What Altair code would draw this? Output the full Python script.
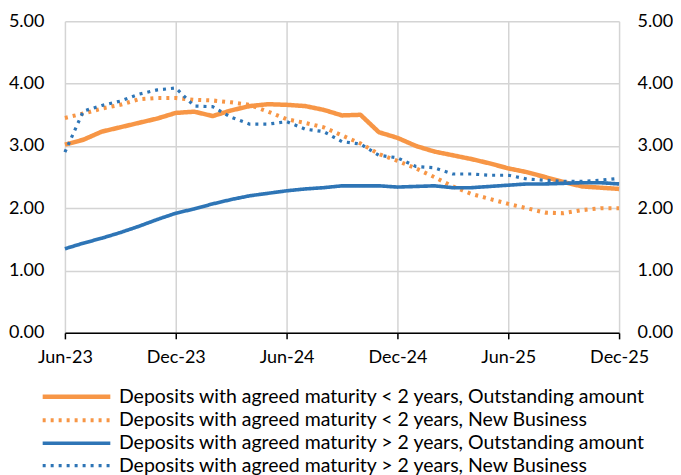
import altair as alt
import pandas as pd

months = ["Jun-23", "Jul-23", "Aug-23", "Sep-23", "Oct-23", "Nov-23", "Dec-23",
          "Jan-24", "Feb-24", "Mar-24", "Apr-24", "May-24", "Jun-24", "Jul-24",
          "Aug-24", "Sep-24", "Oct-24", "Nov-24", "Dec-24",
          "Jan-25", "Feb-25", "Mar-25", "Apr-25", "May-25", "Jun-25", "Jul-25",
          "Aug-25", "Sep-25", "Oct-25", "Nov-25", "Dec-25"]

series_names = [
    "Deposits with agreed maturity < 2 years, Outstanding amount",
    "Deposits with agreed maturity < 2 years, New Business",
    "Deposits with agreed maturity > 2 years, Outstanding amount",
    "Deposits with agreed maturity > 2 years, New Business",
]

short_oa = [3.02, 3.10, 3.23, 3.30, 3.37, 3.44, 3.53, 3.55, 3.48, 3.57, 3.64,
            3.67, 3.66, 3.64, 3.58, 3.49, 3.50, 3.22, 3.13, 3.00, 2.91, 2.85,
            2.79, 2.72, 2.64, 2.58, 2.50, 2.42, 2.35, 2.33, 2.31]
short_nb = [3.45, 3.52, 3.60, 3.66, 3.75, 3.77, 3.77, 3.74, 3.73, 3.70, 3.66,
            3.55, 3.43, 3.37, 3.30, 3.17, 3.04, 2.87, 2.76, 2.64, 2.50, 2.35,
            2.23, 2.15, 2.07, 2.00, 1.93, 1.92, 1.97, 2.00, 2.00]
long_oa = [1.35, 1.44, 1.52, 1.61, 1.71, 1.82, 1.92, 1.99, 2.07, 2.14, 2.20,
           2.24, 2.28, 2.31, 2.33, 2.36, 2.36, 2.36, 2.34, 2.35, 2.36, 2.33,
           2.33, 2.35, 2.37, 2.39, 2.39, 2.40, 2.41, 2.41, 2.39]
long_nb = [2.90, 3.56, 3.65, 3.72, 3.83, 3.90, 3.93, 3.64, 3.63, 3.46, 3.35,
           3.35, 3.39, 3.27, 3.23, 3.07, 3.03, 2.85, 2.81, 2.67, 2.65, 2.55,
           2.55, 2.53, 2.53, 2.47, 2.45, 2.43, 2.43, 2.45, 2.48]

tick_labels = ["Jun-23", "Dec-23", "Jun-24", "Dec-24", "Jun-25", "Dec-25"]

ORANGE = "#F79646"
BLUE = "#2E75B6"
FONT = "Lato"

rows = []
for name, vals in zip(series_names, [short_oa, short_nb, long_oa, long_nb]):
    for i, (m, v) in enumerate(zip(months, vals)):
        rows.append({"idx": i, "month": m, "series": name, "value": v})
df = pd.DataFrame(rows)

label_js = "[" + ",".join("'%s'" % t for t in tick_labels) + "]"

x_enc = alt.X(
    "idx:Q",
    scale=alt.Scale(domain=[0, 30], nice=False, zero=False),
    axis=alt.Axis(
        title=None,
        values=[0, 6, 12, 18, 24, 30],
        labelExpr=label_js + "[round(datum.value / 6)]",
        tickSize=6, tickColor="#000000", tickWidth=1.5,
        domainColor="#000000", domainWidth=1.5,
        grid=True, gridColor="#d4d4d4", gridWidth=1.5,
        labelFont=FONT, labelFontSize=18, labelColor="#000000",
        labelPadding=10, labelFlush=False,
    ),
)

y_scale = alt.Scale(domain=[0, 5], nice=False)

legend_kw = dict(
    title=None, orient="none", legendX=-2.4, legendY=362,
    direction="vertical", symbolType="M-3,0H3", symbolSize=510,
    symbolStrokeWidth=4, labelFont=FONT, labelFontSize=19.5,
    labelColor="#000000", labelLimit=800, rowPadding=0, labelOffset=28.5,
)

lines = alt.Chart(df).mark_line(strokeCap="butt", strokeJoin="round").encode(
    x=x_enc,
    y=alt.Y(
        "value:Q", scale=y_scale,
        axis=alt.Axis(
            title=None, orient="left", values=[0, 1, 2, 3, 4, 5], format=".2f",
            ticks=False, domain=False, grid=True, gridColor="#d4d4d4", gridWidth=1.5,
            labelFont=FONT, labelFontSize=18, labelColor="#000000", labelPadding=21,
        ),
    ),
    color=alt.Color(
        "series:N",
        scale=alt.Scale(domain=series_names, range=[ORANGE, ORANGE, BLUE, BLUE]),
        legend=alt.Legend(**legend_kw),
    ),
    strokeDash=alt.StrokeDash(
        "series:N",
        scale=alt.Scale(domain=series_names, range=[[1, 0], [3, 5], [1, 0], [3, 5]]),
        legend=alt.Legend(**legend_kw),
    ),
    strokeWidth=alt.StrokeWidth(
        "series:N",
        scale=alt.Scale(domain=series_names, range=[4.5, 3.2, 4.2, 3.2]),
        legend=None,
    ),
    order=alt.Order("idx:Q"),
)

right = alt.Chart(df).mark_line(opacity=0).encode(
    x=alt.X("idx:Q", scale=alt.Scale(domain=[0, 30], nice=False, zero=False)),
    y=alt.Y(
        "value:Q", scale=y_scale,
        axis=alt.Axis(
            title=None, orient="right", values=[0, 1, 2, 3, 4, 5], format=".2f",
            ticks=False, domain=False, grid=False,
            labelFont=FONT, labelFontSize=18, labelColor="#000000", labelPadding=18,
        ),
    ),
    detail="series:N",
)

chart = alt.layer(lines, right).resolve_scale(y="independent").properties(
    width=555, height=312,
    padding={"top": 4, "left": 0, "right": 0, "bottom": 0},
).configure_view(strokeWidth=0)

chart.save("out.html", embed_options={"renderer": "svg", "actions": False})
